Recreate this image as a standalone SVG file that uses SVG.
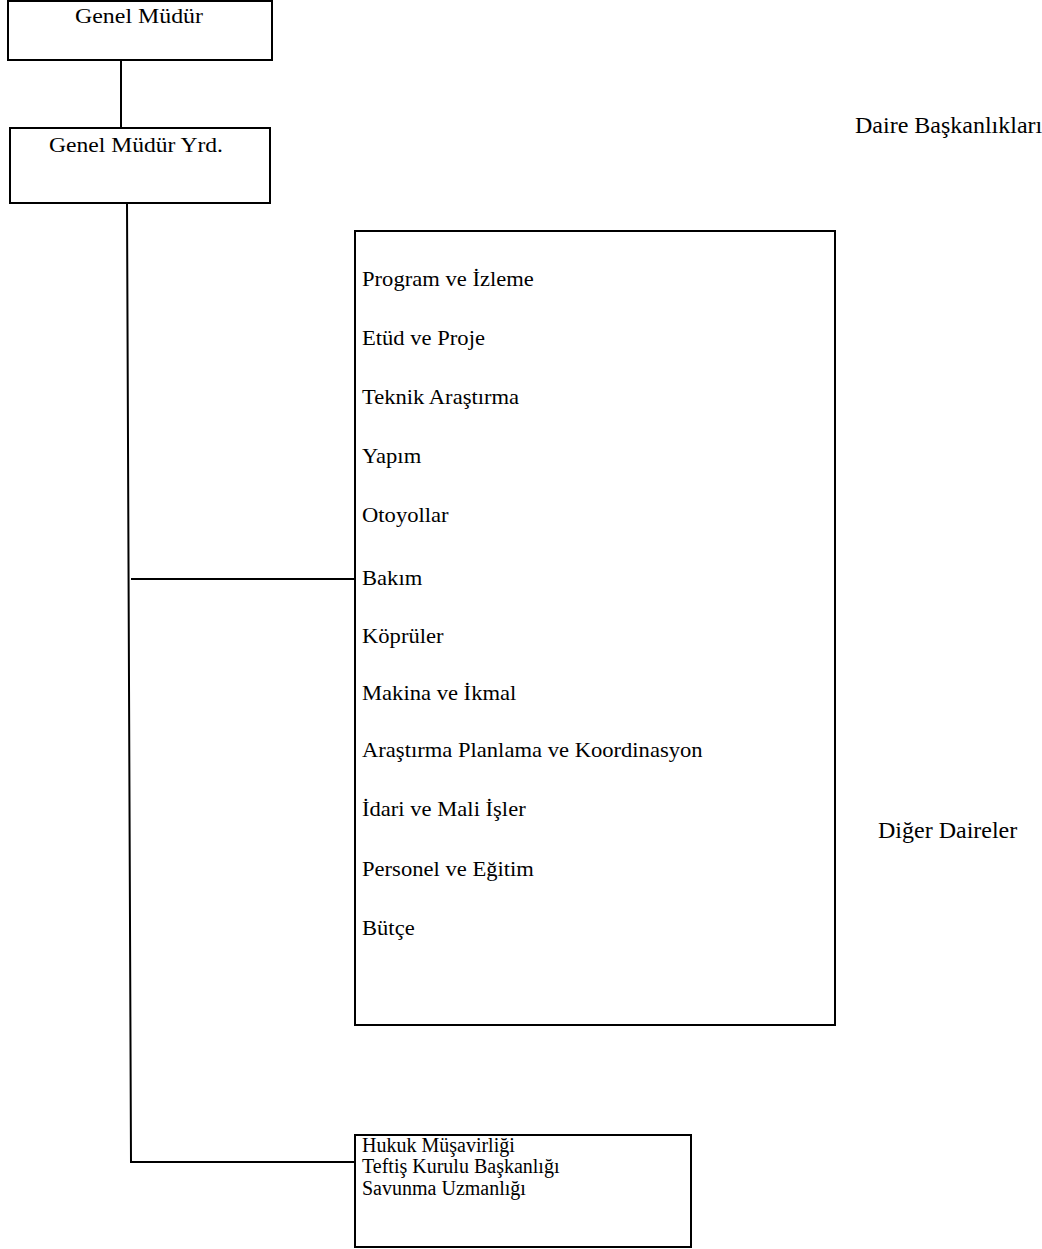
<svg xmlns="http://www.w3.org/2000/svg" width="1042" height="1249" viewBox="0 0 1042 1249">
  <style>
    .box { fill: #fff; stroke: #000; stroke-width: 2; }
    .link { fill: none; stroke: #000; stroke-width: 2; }
    text { font-family: "Liberation Serif", "Times New Roman", serif; fill: #000; }
    .head { font-size: 20px; text-anchor: middle; }
    .item { font-size: 20px; }
    .small { font-size: 20px; }
    .title { font-size: 24px; }
  </style>
  <rect width="1042" height="1249" fill="#fff"/>

  <!-- connectors -->
  <g id="connectors">
    <line class="link" x1="121" y1="60" x2="121" y2="128"/>
    <polyline class="link" points="127,203 131,1162 355,1162"/>
    <line class="link" x1="131" y1="579" x2="355" y2="579"/>
  </g>

  <g id="genel-mudur">
    <rect class="box" x="8" y="1" width="264" height="59"/>
    <text class="head" x="139" y="23" textLength="128" lengthAdjust="spacingAndGlyphs">Genel Müdür</text>
  </g>

  <g id="genel-mudur-yrd">
    <rect class="box" x="10" y="128" width="260" height="75"/>
    <text class="head" x="136" y="152" textLength="174" lengthAdjust="spacingAndGlyphs">Genel Müdür Yrd.</text>
  </g>

  <text class="title" x="855" y="133">Daire Başkanlıkları</text>

  <g id="daire-baskanliklari">
    <rect class="box" x="355" y="231" width="480" height="794"/>
    <!-- list is set slightly wide, anchored at its left margin -->
    <g transform="translate(362,0) scale(1.13,1)">
      <text class="item" x="0" y="286">Program ve İzleme</text>
      <text class="item" x="0" y="345">Etüd ve Proje</text>
      <text class="item" x="0" y="404">Teknik Araştırma</text>
      <text class="item" x="0" y="463">Yapım</text>
      <text class="item" x="0" y="522">Otoyollar</text>
      <text class="item" x="0" y="585">Bakım</text>
      <text class="item" x="0" y="643">Köprüler</text>
      <text class="item" x="0" y="700">Makina ve İkmal</text>
      <text class="item" x="0" y="757">Araştırma Planlama ve Koordinasyon</text>
      <text class="item" x="0" y="816">İdari ve Mali İşler</text>
      <text class="item" x="0" y="876">Personel ve Eğitim</text>
      <text class="item" x="0" y="935">Bütçe</text>
    </g>
  </g>

  <text class="title" x="878" y="838" font-size="26">Diğer Daireler</text>

  <g id="diger-daireler">
    <rect class="box" x="355" y="1135" width="336" height="112"/>
    <text class="small" x="362" y="1152">Hukuk Müşavirliği</text>
    <text class="small" x="362" y="1173">Teftiş Kurulu Başkanlığı</text>
    <text class="small" x="362" y="1195">Savunma Uzmanlığı</text>
  </g>
</svg>
